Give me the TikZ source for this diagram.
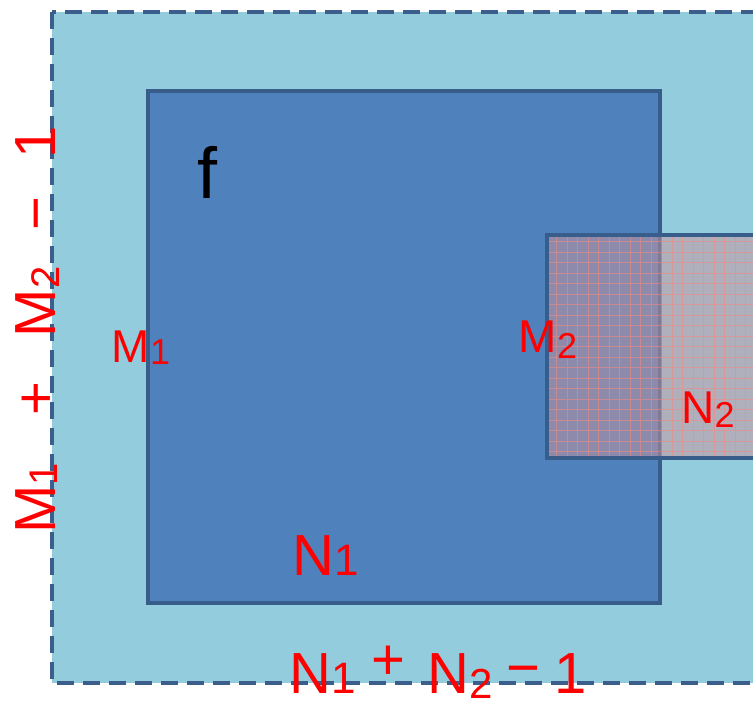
\documentclass[tikz,border=0pt]{standalone}
\usepackage{fontspec}
\setmainfont{Liberation Sans}
\newcommand{\fs}[1]{\fontsize{#1}{#1}\selectfont}
\begin{document}
\begin{tikzpicture}[x=1pt,y=-1pt,
  outerbox/.style={fill=outerfill,draw=borderblue,line width=4pt,dash pattern=on 17pt off 9pt},
  innerbox/.style={fill=innerfill,draw=innerborder,line width=3.5pt},
  hand/.style={text=red,inner sep=0pt,font=\fs{46}},
  handbig/.style={text=red,inner sep=0pt,font=\fs{58}}]
\definecolor{outerfill}{HTML}{93CDDD}
\definecolor{borderblue}{HTML}{3B5E8C}
\definecolor{innerfill}{HTML}{4F81BD}
\definecolor{innerborder}{HTML}{385D8A}
\definecolor{kernfill}{HTML}{CE939C}
\definecolor{gridline}{HTML}{F08A80}
\useasboundingbox (0,0) rectangle (753,710);
\fill[white] (0,0) rectangle (753,710);
\begin{scope}
\clip (0,0) rectangle (753,710);
\draw[outerbox] (52,12) rectangle (800,683);
\draw[innerbox] (148,91) rectangle (660,603);
\fill[kernfill,opacity=0.5] (547,235) rectangle (800,458);
\begin{scope}
\clip (547,235) rectangle (800,458);
\draw[gridline,opacity=0.6,line width=0.7pt,step=10.5pt] (547,235) grid (800,458);
\end{scope}
\draw[innerborder,line width=3.5pt] (547,235) rectangle (800,458);
\end{scope}
\node[inner sep=0pt,font=\fs{72}] (f) at (207,172) {f};
\node[hand] (m1) at (141,348) {M\raisebox{-2pt}{\fs{36}1}};
\node[hand] (m2) at (548,340) {M\raisebox{-6pt}{\fs{36}2}};
\node[hand] (n2) at (708,410) {N\raisebox{-4pt}{\fs{36}2}};
\node[handbig] (n1) at (326,556) {N{\fs{44}1}};
\node[handbig] (bottom) at (438,672) {N{\fs{44}1}\hspace{16pt}\raisebox{14pt}{+}\hspace{22pt}N\raisebox{-5pt}{\fs{42}2}\hspace{14pt}\raisebox{6pt}{−}\hspace{14pt}1};
\node[handbig,rotate=90] (left) at (38,330) {M\raisebox{-2pt}{\fs{40}1}\hspace{48pt}+\hspace{44pt}M\raisebox{-4pt}{\fs{40}2}\hspace{36pt}−\hspace{38pt}1};
\end{tikzpicture}
\end{document}
